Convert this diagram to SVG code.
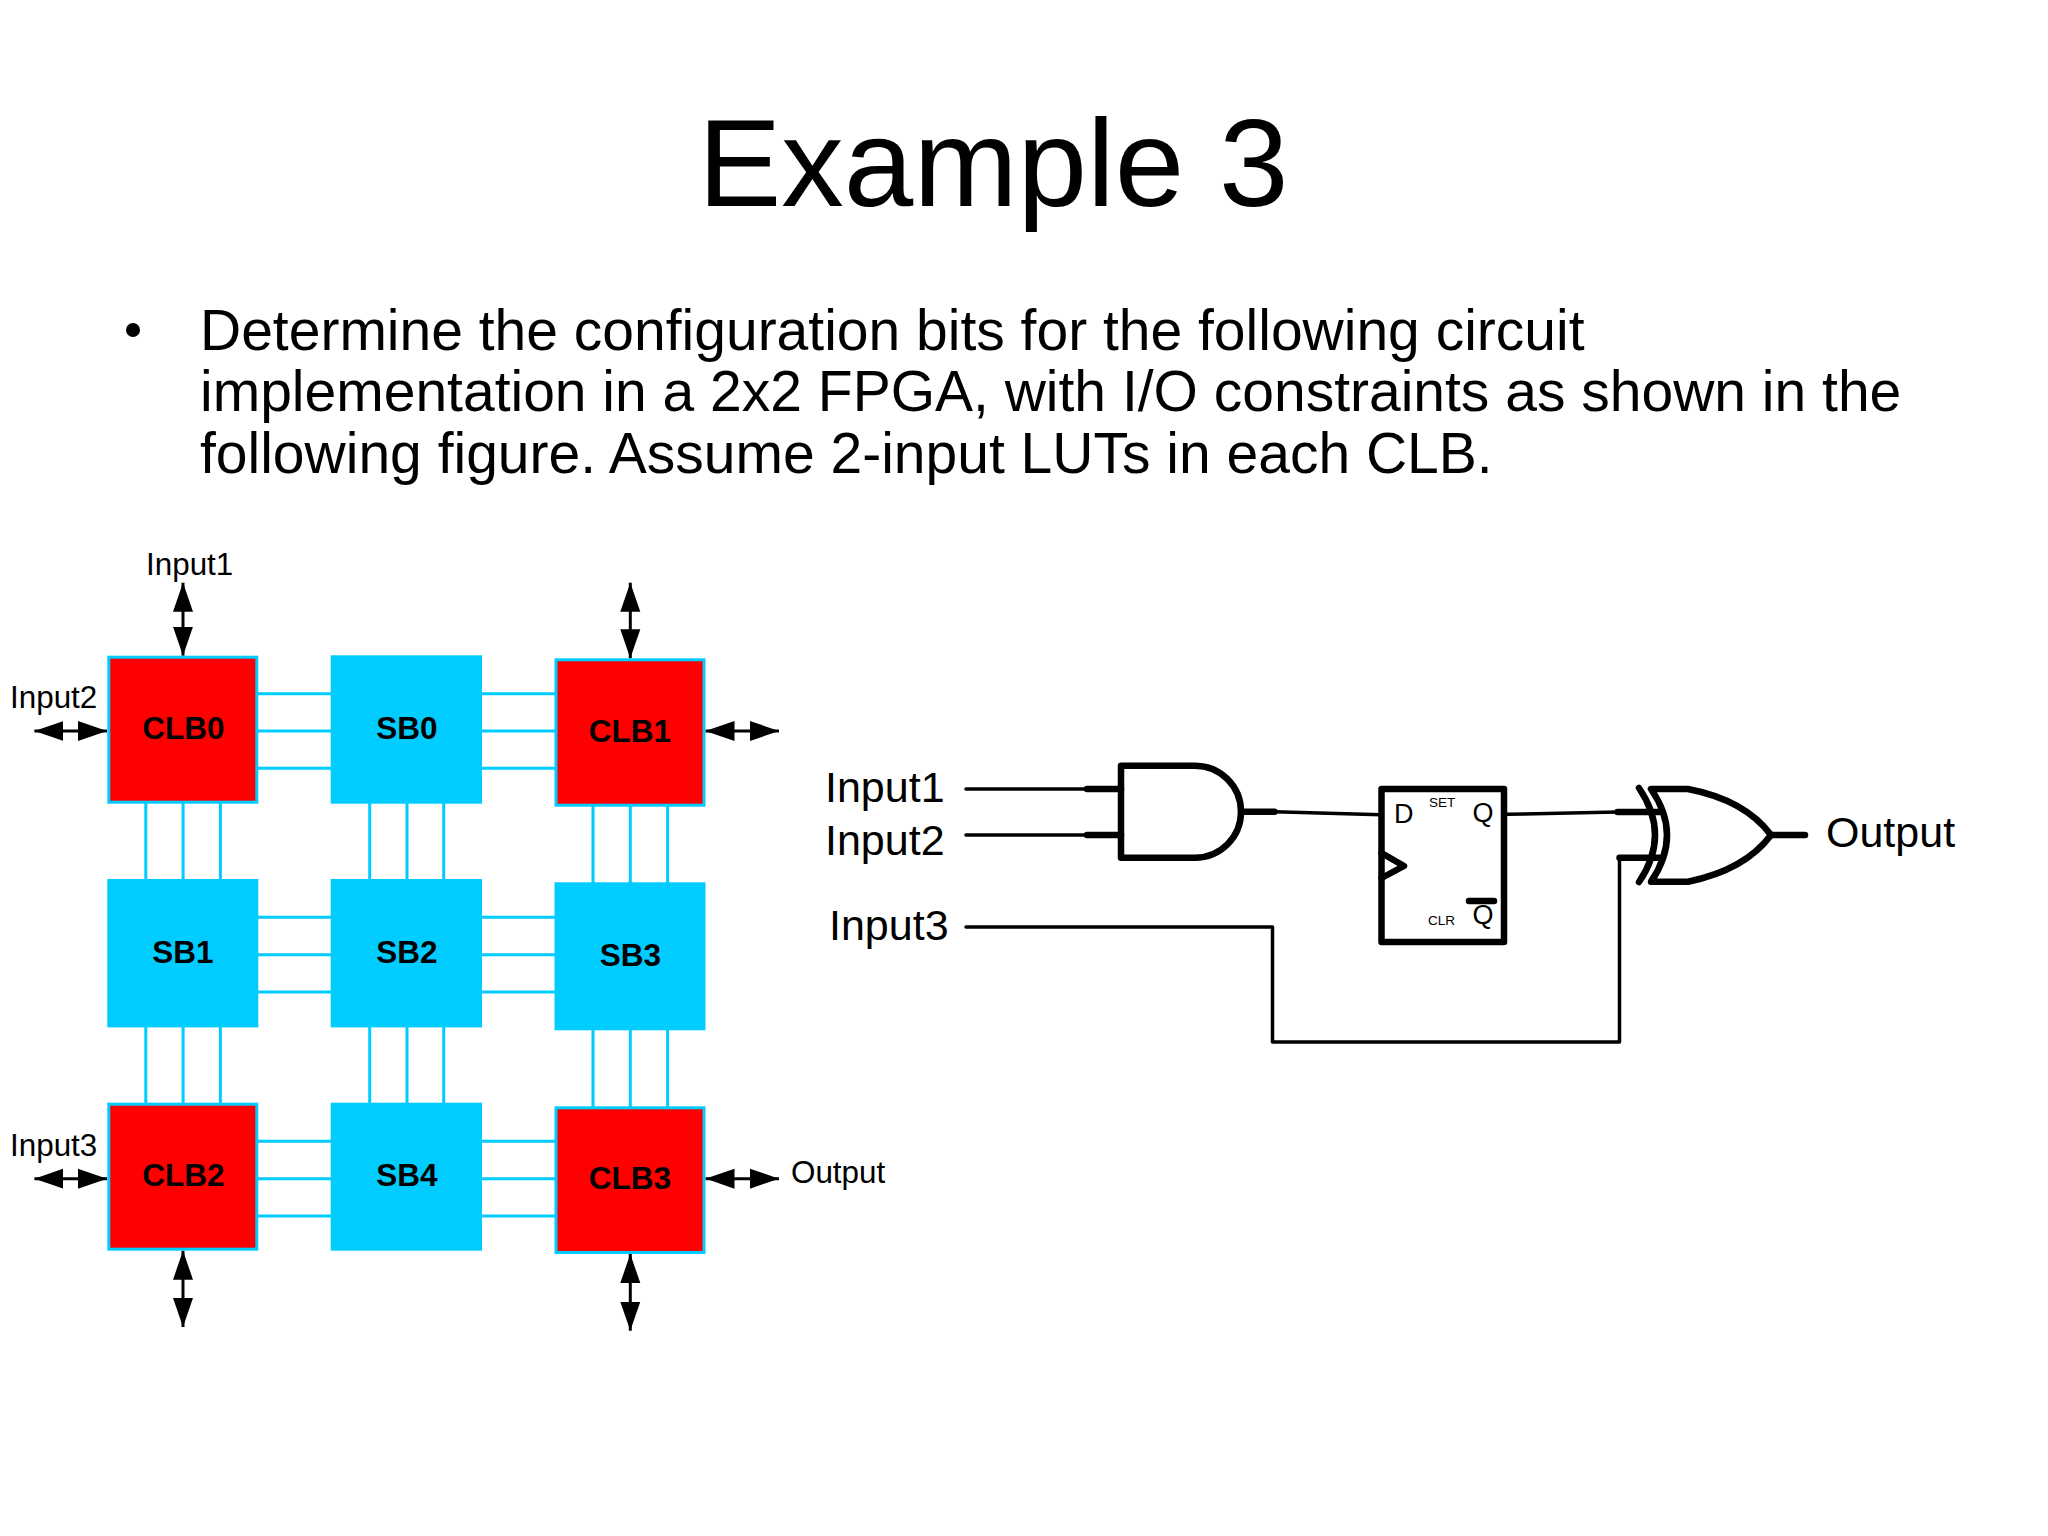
<svg xmlns="http://www.w3.org/2000/svg" width="2048" height="1536" viewBox="0 0 2048 1536">
<style>
text{font-family:"Liberation Sans",Arial,sans-serif;fill:#000}
.t{font-size:125px}.b{font-size:57px}.s{font-size:31.4px}.n{font-size:31.5px;font-weight:bold;text-anchor:middle}.c{font-size:43px}.p{font-size:27px}.m{font-size:13.5px}
.sb{fill:#0cf}.clb{fill:#f00;stroke:#0cf;stroke-width:3}
.w{stroke:#0cf;stroke-width:3;fill:none}
.g{fill:none;stroke:#000;stroke-width:6.5;stroke-linejoin:round;stroke-linecap:round}
.l{fill:none;stroke:#000;stroke-width:3.5;stroke-linejoin:round;stroke-linecap:round}
.a{stroke:#000;stroke-width:3;fill:none;marker-start:url(#ah);marker-end:url(#ah)}
</style>
<defs><marker id="ah" markerUnits="userSpaceOnUse" markerWidth="29" markerHeight="22" refX="29" refY="11" orient="auto-start-reverse"><path d="M0 1L29 11L0 21Z" fill="#000"/></marker></defs>
<g id="title"><text class="t" x="698" y="206">Example 3</text></g>
<g id="body">
<circle cx="133" cy="330" r="7" fill="#000"/>
<text class="b" x="200" y="349.5">Determine the configuration bits for the following circuit</text>
<text class="b" x="200" y="411">implementation in a 2x2 FPGA, with I/O constraints as shown in the</text>
<text class="b" x="200" y="472.5">following figure. Assume 2-input LUTs in each CLB.</text>
</g>
<g id="connectors">
<path class="w" d="M258 693.7H331M258 731H331M258 768.3H331M482 693.7H555M482 731H555M482 768.3H555"/>
<path class="w" d="M258 917.3H331M258 954.7H331M258 992H331M482 917.3H555M482 954.7H555M482 992H555"/>
<path class="w" d="M258 1141.3H331M258 1178.7H331M258 1216H331M482 1141.3H555M482 1178.7H555M482 1216H555"/>
<path class="w" d="M145.8 803V880M183.1 803V880M220.4 803V880M369.7 803V880M407 803V880M443.7 803V880M593 806V883M630.3 806V883M667.6 806V883"/>
<path class="w" d="M145.8 1027V1103M183.1 1027V1103M220.4 1027V1103M369.7 1027V1103M407 1027V1103M443.7 1027V1103M593 1030V1107M630.3 1030V1107M667.6 1030V1107"/>
<path class="a" d="M183 582.7V655.7"/>
<path class="a" d="M630.3 582.7V658.3"/>
<path class="a" d="M34.4 731H107"/>
<path class="a" d="M705.5 731H779"/>
<path class="a" d="M34.4 1178.7H107"/>
<path class="a" d="M705.5 1178.7H779"/>
<path class="a" d="M183 1250.7V1327"/>
<path class="a" d="M630.3 1254V1330.7"/>
<path class="l" d="M966 789H1118M966 835H1118M1274.5 811.7L1381 814.7M1507 814.3L1617.5 812M966 927H1272.5V1042H1619.5V857.7"/>
<path class="g" d="M1087 789H1121M1087 835H1121M1241 811.7H1274.5M1617.5 812H1660M1619.5 857.7H1660M1771 835H1805"/>
</g>
<g id="CLB0"><rect class="clb" x="108.8" y="657.2" width="148" height="145"/><text class="n" x="183.4" y="738.7">CLB0</text></g>
<g id="SB0"><rect class="sb" x="330.7" y="655.3" width="151.3" height="148.4"/><text class="n" x="407" y="738.7">SB0</text></g>
<g id="CLB1"><rect class="clb" x="556" y="659.8" width="148" height="145.4"/><text class="n" x="630" y="742">CLB1</text></g>
<g id="SB1"><rect class="sb" x="107.3" y="879" width="151" height="148.4"/><text class="n" x="183" y="962.7">SB1</text></g>
<g id="SB2"><rect class="sb" x="330.7" y="879" width="151.3" height="148.4"/><text class="n" x="407" y="962.7">SB2</text></g>
<g id="SB3"><rect class="sb" x="554.5" y="882.3" width="151" height="148"/><text class="n" x="630.3" y="965.7">SB3</text></g>
<g id="CLB2"><rect class="clb" x="108.8" y="1104.2" width="148" height="145"/><text class="n" x="183.4" y="1186">CLB2</text></g>
<g id="SB4"><rect class="sb" x="330.7" y="1102.7" width="151.3" height="148"/><text class="n" x="407" y="1186">SB4</text></g>
<g id="CLB3"><rect class="clb" x="556" y="1107.8" width="148" height="144.7"/><text class="n" x="630" y="1189.3">CLB3</text></g>
<g id="fpga-labels">
<text class="s" x="146" y="575">Input1</text>
<text class="s" x="10" y="708">Input2</text>
<text class="s" x="10" y="1155.7">Input3</text>
<text class="s" x="791" y="1183">Output</text>
</g>
<g id="circuit-labels">
<text class="c" x="825" y="802.3">Input1</text>
<text class="c" x="825" y="855">Input2</text>
<text class="c" x="829" y="940">Input3</text>
<text class="c" x="1826" y="846.7">Output</text>
</g>
<g id="AND"><path class="g" d="M1121 765.7H1195A46 46 0 0 1 1195 857.7H1121Z"/></g>
<g id="FF"><rect class="g" x="1381.5" y="789" width="122.5" height="153"/>
<path class="g" d="M1381.5 853L1404 866L1381.5 878"/>
<text class="p" x="1401" y="822.7" dx="-7">D</text><text class="p" x="1472.5" y="821.7">Q</text><text class="p" x="1472.5" y="924.3">Q</text>
<text class="m" x="1429" y="807">SET</text><text class="m" x="1428" y="925">CLR</text>
<path class="g" d="M1469 901H1494"/></g>
<g id="XOR"><path class="g" d="M1639 788Q1671 835 1639 882"/><path class="g" d="M1651 789H1688Q1745 800 1771 835Q1745 870 1688 881.7H1651Q1683 835 1651 789Z"/></g>
</svg>
